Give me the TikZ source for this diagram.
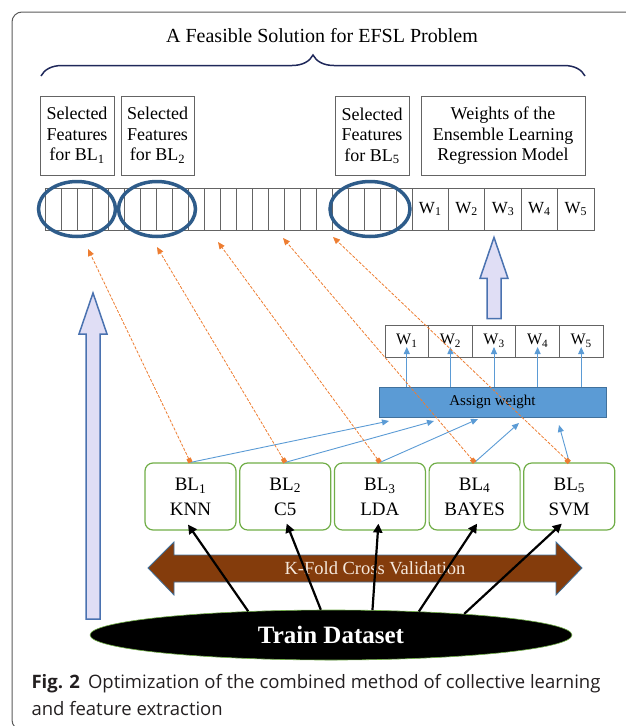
\documentclass[tikz,border=0pt]{standalone}
\usepackage{fontspec}
\setmainfont{Liberation Serif}
\newfontfamily\capfont{Open Sans}
\usepackage{tikz}
\usetikzlibrary{arrows.meta, positioning, shapes.geometric, decorations.pathreplacing, calc}
\definecolor{framegray}{RGB}{90,90,90}
\definecolor{boxgray}{RGB}{100,100,100}
\definecolor{navy}{RGB}{31,40,90}
\definecolor{ringblue}{RGB}{46,92,138}
\definecolor{dashorange}{RGB}{237,125,49}
\definecolor{linkblue}{RGB}{91,155,213}
\definecolor{assignfill}{RGB}{91,155,213}
\definecolor{assigndraw}{RGB}{65,113,156}
\definecolor{learnergreen}{RGB}{112,173,71}
\definecolor{lavender}{RGB}{224,222,245}
\definecolor{arrowedge}{RGB}{74,114,176}
\definecolor{kfoldbrown}{RGB}{132,60,12}
\definecolor{kfoldtext}{RGB}{245,232,220}
\definecolor{captext}{RGB}{35,31,32}
\tikzstyle{featbox} = [
    rectangle,
    draw=boxgray,
    line width=0.9pt,
    align=center,
    inner sep=0pt,
    minimum height=79pt,
    font=\fontsize{18}{20.5}\selectfont
]
\tikzstyle{cell} = [
    rectangle,
    draw=boxgray,
    line width=0.8pt,
    minimum width=15.96pt,
    minimum height=42pt,
    inner sep=0pt
]
\tikzstyle{wcell} = [cell, minimum width=36.4pt, font=\fontsize{17}{17}\selectfont]
\tikzstyle{vcell} = [cell, minimum width=43.6pt, minimum height=32pt, font=\fontsize{16}{16}\selectfont]
\tikzstyle{ring} = [
    ellipse,
    draw=ringblue,
    line width=3.5pt,
    minimum width=77pt,
    minimum height=55pt,
    inner sep=0pt
]
\tikzstyle{learner} = [
    rectangle,
    rounded corners=8pt,
    draw=learnergreen,
    line width=1.2pt,
    minimum width=91pt,
    minimum height=67pt,
    align=center,
    font=\fontsize{19}{25}\selectfont
]
\tikzstyle{pick} = [
    dashorange,
    line width=0.8pt,
    dash pattern=on 3pt off 1.5pt,
    {Square[length=4.5pt,width=4.5pt]}-{Triangle[length=7pt,width=6pt]}
]
\tikzstyle{link} = [linkblue, line width=0.9pt, -{Triangle[length=7pt,width=6pt]}]
\tikzstyle{feed} = [black, line width=2.2pt, -{Triangle[length=9pt,width=9pt]}]
\tikzstyle{blockarrow} = [draw=arrowedge, fill=lavender, line width=1.5pt, line join=miter]
% block arrow pointing up: #1 foot, #2 tip (same x)
\newcommand{\blockup}[2]{%
    \draw[blockarrow] ($(#1)+(-7,0)$) -- ($(#2)+(-7,41)$) -- ($(#2)+(-14,41)$) -- (#2)
        -- ($(#2)+(14,41)$) -- ($(#2)+(7,41)$) -- ($(#1)+(7,0)$) -- cycle;}
\begin{document}
\begin{tikzpicture}[x=1pt, y=-1pt, node distance=2.5pt]
        \useasboundingbox (0,0) rectangle (625,726);
        % Frame
        \draw[framegray, line width=1pt, rounded corners=10pt] (640,12) -- (12,12) -- (12,730) -- (640,730);

        % Solution vector
        \node[font=\fontsize{20}{24}\selectfont] (title) at (322,36) {A Feasible Solution for EFSL Problem};
        \draw[navy, line width=1.5pt, decorate, decoration={brace, amplitude=21pt}] (41,76) -- (585,76);
        \node[featbox, minimum width=74pt] (sel1box) at (77,135.5) {Selected\\Features\\for BL\textsubscript{1}};
        \node[featbox, minimum width=73pt] (sel2box) at (157.5,135.5) {Selected\\Features\\for BL\textsubscript{2}};
        \node[featbox, minimum width=74pt] (sel5box) at (372,136) {Selected\\Features\\for BL\textsubscript{5}};
        \node[featbox, minimum width=164pt] (weightbox) at (503,136) {Weights of the\\Ensemble Learning\\Regression Model};
        \foreach \i in {1,...,23}
            \node[cell] (c\i) at ({45+(\i-0.5)*15.96},209) {};
        \foreach \i in {1,...,5}
            \node[wcell] (w\i) at ({412+(\i-0.5)*36.4},209) {W\textsubscript{\i}};
        \node[ring] (ring1) at (77,209) {};
        \node[ring] (ring2) at (157,209) {};
        \node[ring, minimum width=80pt] (ring5) at (370,209) {};

        % Weights
        \foreach \i in {1,...,5}
            \node[vcell] (v\i) at ({385+(\i-0.5)*43.6},341) {W\textsubscript{\i}};
        \node[rectangle, fill=assignfill, draw=assigndraw, line width=1pt, minimum width=227pt, minimum height=30pt, font=\fontsize{15}{15}\selectfont] (assign) at (492.5,402) {Assign weight};
        \foreach \i in {1,...,5}
            \draw[link] (v\i |- assign.north) -- ($(v\i.center)+(0,6)$);

        % Base learners
        \node[learner] (bl1) at (190.5,496.5) {BL\textsubscript{1}\\KNN};
        \node[learner, right=of bl1] (bl2) {BL\textsubscript{2}\\C5};
        \node[learner, right=of bl2] (bl3) {BL\textsubscript{3}\\LDA};
        \node[learner, right=of bl3] (bl4) {BL\textsubscript{4}\\BAYES};
        \node[learner, right=of bl4] (bl5) {BL\textsubscript{5}\\SVM};

        \coordinate (t1) at (88,249);
        \coordinate (t2) at (157,247);
        \coordinate (t3) at (218,242);
        \coordinate (t4) at (283,238);
        \coordinate (t5) at (333,237);
        \coordinate (a1) at (389,421);
        \coordinate (a2) at (434,421);
        \coordinate (a3) at (478,419);
        \coordinate (a4) at (519,423);
        \coordinate (a5) at (559,425);
        \foreach \i in {1,...,5}
            \draw[link] (bl\i.north) -- (a\i);
        \foreach \i in {1,...,5}
            \draw[pick] (bl\i.north) -- (t\i);

        % Big arrows
        \coordinate (upfoot) at (93,619);
        \coordinate (uptip) at (93,293);
        \blockup{upfoot}{uptip}
        \coordinate (wfoot) at ($(v3.north)+(0,-6)$);
        \coordinate (wtip) at ($(v3.north |- c1.south)+(0,7)$);
        \blockup{wfoot}{wtip}

        % Cross validation
        \draw[fill=kfoldbrown, draw=assigndraw, line width=0.8pt] (148,568) -- (174,542) -- (174,555) -- (556,555) -- (556,542) -- (582,568) -- (556,595) -- (556,582) -- (174,582) -- (174,595) -- cycle;
        \node[text=kfoldtext, font=\fontsize{18.5}{18.5}\selectfont] (kfold) at (375,568) {K-Fold Cross Validation};
        \node[ellipse, fill=black, draw=learnergreen, line width=0.6pt, minimum width=482pt, minimum height=50pt, text=white, font=\fontsize{25}{25}\selectfont\bfseries] (train) at (331,635) {Train Dataset};
        \draw[feed] (train.164) -- ($(bl1.south)+(-2.5,-6)$);
        \draw[feed] (train.112) -- ($(bl2.south)+(1.5,-7)$);
        \draw[feed] (train.31) -- ($(bl3.south)+(-1.5,-7)$);
        \draw[feed] (train.15) -- ($(bl4.south)+(2.5,-7)$);
        \draw[feed] (train.9.6) -- ($(bl5.south)+(-7.5,-7)$);

        % Caption
        \node[anchor=base west, text=captext, font=\capfont\fontsize{18.5}{20}\selectfont] (cap1) at (28,688) {\textbf{Fig. 2}\hspace{8pt}Optimization of the combined method of collective learning};
        \node[anchor=base west, text=captext, font=\capfont\fontsize{18.5}{20}\selectfont] (cap2) at (28,715) {and feature extraction};
    \end{tikzpicture}
\end{document}
